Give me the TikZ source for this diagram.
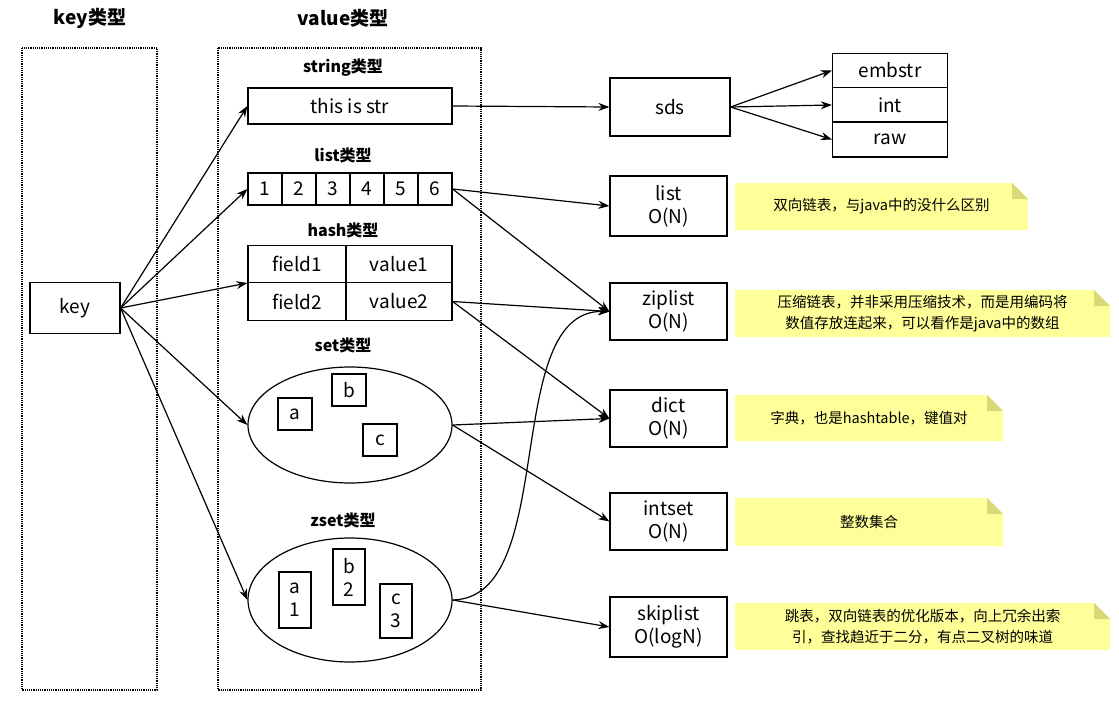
\documentclass[tikz,border=0pt]{standalone}
\usepackage{fontspec}
\setmainfont{Noto Sans CJK SC}
\usetikzlibrary{arrows.meta,shapes.geometric}
\definecolor{note}{HTML}{FFFF99}
\definecolor{fold}{HTML}{D9D97A}
\begin{document}
\begin{tikzpicture}[x=1pt,y=-1pt,line width=1.2pt,
  txt/.style={font=\fontsize{19}{23}\selectfont},
  ttl/.style={font=\fontsize{19}{23}\selectfont\bfseries},
  sttl/.style={font=\fontsize{16}{19}\selectfont\bfseries},
  box/.style={draw,txt,align=center,inner sep=0pt},
  cont/.style={draw,densely dotted},
  arr/.style={-{Stealth[length=11pt,width=8pt]}},
  notetxt/.style={font=\fontsize{14.5}{21}\selectfont,align=center}]
\useasboundingbox (0,0) rectangle (1119,701);
% containers
\draw[cont] (22,48) rectangle (157,690);
\draw[cont] (218,48) rectangle (481,690);
\node[ttl] (kt) at (90,18) {key类型};
\node[ttl] (vt) at (343,18) {value类型};
\node[box,minimum width=90,minimum height=51] (key) at (75,308) {key};
% string
\node[sttl] (st) at (343,68) {string类型};
\node[box,minimum width=204,minimum height=36] (str) at (350,106) {this is str};
% list
\node[sttl] (lt) at (343,155) {list类型};
\foreach \i in {1,...,6}{
  \node[box,minimum width=34,minimum height=32] (c\i) at ({248+34*\i-17},189) {\i};}
\node[inner sep=0,minimum width=204,minimum height=32] (lst) at (350,189) {};
% hash
\node[sttl] (ht) at (343,230) {hash类型};
\node[box,minimum width=98,minimum height=37.5] (h1) at (297,264) {field1};
\node[box,minimum width=106,minimum height=37.5] (h2) at (399,264) {value1};
\node[box,minimum width=98,minimum height=37.5] (h3) at (297,301.5) {field2};
\node[box,minimum width=106,minimum height=37.5] (h4) at (399,301.5) {value2};
\node[inner sep=0,minimum width=204,minimum height=75] (hash) at (350,283) {};
% set
\node[sttl] (sett) at (343,345) {set类型};
\node[draw,ellipse,minimum width=204,minimum height=116] (set) at (350,425) {};
\node[box,minimum width=34,minimum height=32] (sa) at (295,414) {a};
\node[box,minimum width=34,minimum height=32] (sb) at (349,390) {b};
\node[box,minimum width=34,minimum height=32] (sc) at (380,440) {c};
% zset
\node[sttl] (zt) at (343,520) {zset类型};
\node[draw,ellipse,minimum width=204,minimum height=124] (zset) at (350,600) {};
\node[box,minimum width=32,minimum height=56] (za) at (295,600) {a\\1};
\node[box,minimum width=32,minimum height=56] (zb) at (349,577) {b\\2};
\node[box,minimum width=32,minimum height=54] (zc) at (396,611) {c\\3};
% right side
\node[box,minimum width=120,minimum height=58] (sds) at (670,107) {sds};
\node[box,minimum width=115,minimum height=34.7] (emb) at (890,70.5) {embstr};
\node[box,minimum width=115,minimum height=34.3] (int) at (890,105) {int};
\node[box,minimum width=115,minimum height=35] (raw) at (890,139.5) {raw};
\node[box,minimum width=117,minimum height=60] (list) at (668.5,206) {list\\O(N)};
\node[box,minimum width=117,minimum height=57] (zip) at (668.5,311.5) {ziplist\\O(N)};
\node[box,minimum width=117,minimum height=57] (dict) at (668.5,418.5) {dict\\O(N)};
\node[box,minimum width=117,minimum height=57] (iset) at (668.5,521.5) {intset\\O(N)};
\node[box,minimum width=117,minimum height=60] (skip) at (668.5,627) {skiplist\\O(logN)};
% notes
\newcommand\mynote[6]{%
  \fill[note] (#1,#2) -- (#3-16,#2) -- (#3,#2+16) -- (#3,#4) -- (#1,#4) -- cycle;
  \fill[fold] (#3-16,#2) -- (#3-16,#2+16) -- (#3,#2+16) -- cycle;
  \node[notetxt] (#6) at ({(#1+#3)/2},{(#2+#4)/2}) {#5};}
\mynote{735}{183}{1028}{230}{双向链表，与java中的没什么区别}{n1}
\mynote{735}{290}{1110}{337}{压缩链表，并非采用压缩技术，而是用编码将\\数值存放连起来，可以看作是java中的数组}{n2}
\mynote{735}{395}{1003}{441}{字典，也是hashtable，键值对}{n3}
\mynote{735}{498}{1003}{546}{整数集合}{n4}
\mynote{735}{603}{1110}{650}{跳表，双向链表的优化版本，向上冗余出索\\引，查找趋近于二分，有点二叉树的味道}{n5}
% arrows
\draw[arr] (key.east) -- (str.west);
\draw[arr] (key.east) -- (lst.west);
\draw[arr] (key.east) -- (hash.west);
\draw[arr] (key.east) -- (set.west);
\draw[arr] (key.east) -- (zset.west);
\draw[arr] (str.east) -- (sds.west);
\draw[arr] (sds.east) -- (emb.west);
\draw[arr] (sds.east) -- (int.west);
\draw[arr] (sds.east) -- (raw.west);
\draw[arr] (lst.east) -- (list.west);
\draw[arr] (lst.east) -- (zip.west);
\draw[arr] (h4.east) -- (zip.west);
\draw[arr] (h4.east) -- (dict.west);
\draw[arr] (set.east) -- (dict.west);
\draw[arr] (set.east) -- (iset.west);
\draw[arr] (zset.east) .. controls (560,598) and (500,310) .. (zip.west);
\draw[arr] (zset.east) -- (skip.west);
\end{tikzpicture}
\end{document}
